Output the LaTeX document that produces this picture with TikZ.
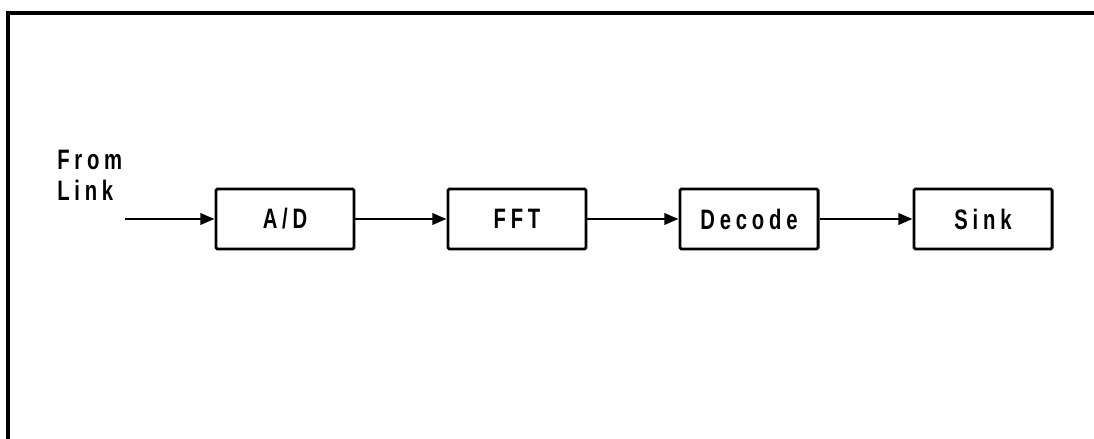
\documentclass[tikz,border=0pt]{standalone}
\usepackage{fontspec}
\usetikzlibrary{arrows.meta}
\newfontfamily\plotfont[FakeStretch=0.72,LetterSpace=17]{Liberation Sans}

\begin{document}
\begin{tikzpicture}[x=0.025cm,y=-0.025cm,
    block/.style={draw,line width=2.1pt,rounded corners=1pt,minimum width=3.45cm,
      minimum height=1.5cm,inner sep=0pt,font=\plotfont\bfseries\fontsize{20}{22}\selectfont},
    flow/.style={line width=1.9pt,-{Triangle[length=10pt,width=8pt]}}]
  \useasboundingbox (0,0) rectangle (1094,439);
  % Frame
  \draw[line width=2.6pt] (8,439) -- (8,13) -- (1094,13);
  % Blocks
  \node[block] (ad) at (285,219) {A/D};
  \node[block] (fft) at (517,219) {FFT};
  \node[block] (decode) at (749,219) {Decode};
  \node[block] (sink) at (983,219) {Sink};
  % Input
  \coordinate (in) at (125,219);
  \node[anchor=north west,inner sep=0pt,align=left,
    font=\plotfont\bfseries\fontsize{20}{22}\selectfont] (link) at (57,150) {From\\Link};
  % Arrows
  \draw[flow] (in) -- (ad);
  \draw[flow] (ad) -- (fft);
  \draw[flow] (fft) -- (decode);
  \draw[flow] (decode) -- (sink);
\end{tikzpicture}
\end{document}
